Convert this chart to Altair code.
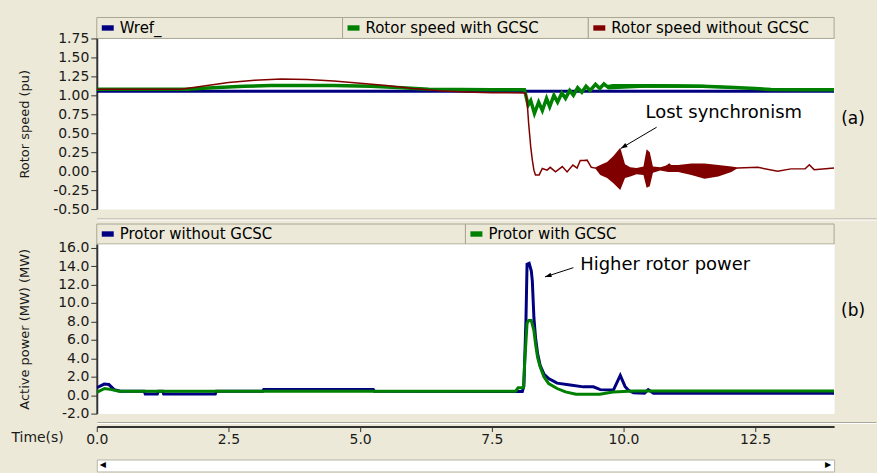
import altair as alt
import pandas as pd

# ---------------- text / categories ----------------
names_a = ["Wref_", "Rotor speed with GCSC", "Rotor speed without GCSC"]
colors_a = ["#000080", "#008000", "#800000"]
names_b = ["Protor without  GCSC", "Protor with  GCSC"]
colors_b = ["#000080", "#008000"]

yticks_a = [-0.5, -0.25, 0.0, 0.25, 0.5, 0.75, 1.0, 1.25, 1.5, 1.75]
yticks_b = [-2, 0, 2, 4, 6, 8, 10, 12, 14, 16]
xticks = [0.0, 2.5, 5.0, 7.5, 10.0, 12.5]

# ---------------- (a) rotor speed (pu) ----------------
wref_t = [0.0, 14.0]
wref_v = [1.055, 1.055]

with_t = [0.0, 1.7, 2.2, 2.8, 3.3, 4.5, 5.2, 5.8, 6.3, 7.5,
          8.12, 8.14, 8.19, 8.24, 8.31, 8.39, 8.46, 8.54, 8.60, 8.68,
          8.75, 8.83, 8.90, 8.98, 9.05, 9.13, 9.21, 9.29, 9.37, 9.47,
          9.55, 9.63, 9.72, 10.5, 11.5, 12.0, 12.5, 12.8, 13.5, 14.0]
with_v = [1.08, 1.08, 1.10, 1.12, 1.13, 1.13, 1.12, 1.10, 1.08, 1.075,
          1.075, 1.02, 0.87, 0.93, 0.76, 0.91, 0.80, 0.96, 0.85, 1.00,
          0.91, 1.03, 0.96, 1.065, 1.00, 1.10, 1.04, 1.12, 1.065, 1.145,
          1.09, 1.15, 1.10, 1.125, 1.12, 1.105, 1.09, 1.078, 1.075, 1.075]
# envelope of the fast ripple of the "with GCSC" speed
with_rip_t = [9.63, 9.80, 10.5, 11.5, 12.0, 12.5, 12.8]
with_rip_lo = [1.12, 1.10, 1.10, 1.10, 1.09, 1.08, 1.075]
with_rip_hi = [1.13, 1.15, 1.15, 1.14, 1.12, 1.10, 1.08]

without_t = [0.0, 1.6, 2.0, 2.5, 3.0, 3.5, 4.0, 4.5, 5.0, 5.5,
             6.0, 6.5, 7.0, 7.5, 8.14, 8.17, 8.20, 8.24, 8.27, 8.30,
             8.33, 8.40, 8.46, 8.55, 8.61, 8.71, 8.84, 8.93, 9.04, 9.12,
             9.18, 9.25, 9.31, 9.39, 9.47, 9.70, 10.0, 10.25, 10.47, 10.6,
             10.75, 10.87, 10.95, 11.5, 12.05, 12.17, 12.55, 12.93, 13.18, 13.45,
             13.53, 13.62, 14.0]
without_v = [1.08, 1.08, 1.12, 1.17, 1.20, 1.215, 1.21, 1.19, 1.16, 1.13,
             1.09, 1.06, 1.045, 1.035, 1.03, 0.93, 0.63, 0.32, 0.145, 0.013,
             -0.05, -0.05, 0.035, 0.013, 0.05, -0.01, 0.06, -0.01, 0.08, 0.04,
             0.14, 0.14, 0.145, 0.05, 0.04, 0.02, 0.03, 0.0, 0.03, 0.035,
             0.03, 0.09, 0.04, 0.0, 0.03, 0.04, 0.05, 0.0, 0.03, 0.03,
             0.085, 0.02, 0.04]
# envelope of the dense oscillation after loss of synchronism
without_osc_t = [9.47, 9.56, 9.69, 9.81, 9.94, 10.03, 10.13, 10.25, 10.38, 10.44,
                 10.50, 10.56, 10.70, 10.85, 11.04, 11.29, 11.54, 11.80, 12.05, 12.15]
without_osc_lo = [0.03, -0.05, -0.09, -0.16, -0.25, -0.09, -0.07, -0.04, -0.05, -0.22,
                  -0.20, -0.02, 0.01, -0.01, -0.01, -0.05, -0.10, -0.07, -0.01, 0.03]
without_osc_hi = [0.05, 0.08, 0.12, 0.20, 0.31, 0.09, 0.05, 0.04, 0.06, 0.29,
                  0.25, 0.06, 0.05, 0.08, 0.08, 0.10, 0.10, 0.08, 0.06, 0.05]

# ---------------- (b) rotor active power (MW) ----------------
pwo_t = [0.0, 0.14, 0.23, 0.33, 0.45, 0.90, 0.92, 1.15, 1.17, 1.25,
         1.27, 2.25, 2.27, 3.15, 3.17, 5.25, 5.27, 8.08, 8.11, 8.15,
         8.17, 8.21, 8.25, 8.27, 8.30, 8.33, 8.37, 8.42, 8.49, 8.58,
         8.74, 8.99, 9.24, 9.43, 9.56, 9.81, 9.94, 10.03, 10.09, 10.19,
         10.40, 10.47, 10.57, 14.0]
pwo_v = [0.8, 1.2, 1.15, 0.6, 0.42, 0.42, 0.12, 0.12, 0.42, 0.42,
         0.12, 0.12, 0.42, 0.42, 0.62, 0.62, 0.42, 0.40, 1.0, 8.4,
         14.2, 14.3, 13.5, 12.4, 8.4, 6.3, 4.5, 3.2, 2.3, 1.8,
         1.3, 1.1, 0.9, 0.9, 0.6, 0.55, 2.15, 0.95, 0.55, 0.25,
         0.2, 0.6, 0.2, 0.2]
pw_t = [0.0, 0.15, 0.28, 0.42, 7.95, 8.0, 8.1, 8.13, 8.17, 8.20,
        8.25, 8.30, 8.33, 8.37, 8.42, 8.49, 8.58, 8.74, 8.90, 9.10,
        9.55, 9.80, 10.2, 14.0]
pw_v = [0.3, 0.72, 0.6, 0.42, 0.42, 0.8, 0.8, 4.0, 7.8, 8.1,
        8.1, 7.0, 5.6, 4.1, 3.06, 2.0, 1.26, 0.72, 0.36, 0.10,
        0.10, 0.35, 0.45, 0.45]

# ---------------- annotations ----------------
ann_a_text = ["Lost synchronism"]
ann_a_t = [10.42]
ann_a_v = [0.763]
arrow_a_t, arrow_a_v, arrow_a_t2, arrow_a_v2 = [10.63], [0.579], [9.95], [0.30]
ann_b_text = ["Higher rotor power"]
ann_b_t = [9.18]
ann_b_v = [14.1]
arrow_b_t, arrow_b_v, arrow_b_t2, arrow_b_v2 = [9.05], [13.83], [8.51], [12.83]
tag_a = ["(a)"]
tag_a_t, tag_a_v = [14.36], [0.684]
tag_b = ["(b)"]
tag_b_t, tag_b_v = [14.36], [9.15]

scroll_glyph = ["\u25C0", "\u25B6"]
scroll_pos = [0.0, 1.0]

# ---------------- styling ----------------
W = 739
BG = "#ECE9D8"
FONT = "DejaVu Sans"
INK = "#1a1a1a"
AXC = "#333333"
SWATCH = "M-1,-0.45L1,-0.45L1,0.45L-1,0.45Z"
HEAD = "M0,0L-0.6,1.7L0.6,1.7Z"
MINUS = "replace(format(datum.value, '{f}'), '\u2212', '-')"


def sdf(t, v, name):
    return pd.DataFrame({"t": t, "v": v, "series": name})


xscale = alt.Scale(domain=[0, 14], nice=False, zero=False)


def y_axis(values, fmt, title, h):
    return alt.Axis(values=values, labelExpr=MINUS.format(f=fmt), title=title,
                    titleFont=FONT, titleFontSize=13, titleFontWeight="normal",
                    titleColor=INK, titleX=-72, titleY=h / 2, titleAngle=270,
                    titleAlign="center", titleBaseline="middle",
                    labelFont=FONT, labelFontSize=14, labelColor=INK,
                    labelPadding=2, tickSize=6, tickColor=AXC, tickWidth=1,
                    domainColor=AXC, domainWidth=2, grid=False)


def panel(series_layers, ysc, yax, xax, color_scale, ann, h):
    X = alt.X("t:Q", scale=xscale, axis=xax)
    Y = alt.Y("v:Q", scale=ysc, axis=yax)
    C = alt.Color("series:N", scale=color_scale, legend=None)
    layers = []
    for kind, df, width in series_layers:
        base = alt.Chart(df)
        if kind == "line":
            layers.append(base.mark_line(strokeWidth=width, clip=True).encode(x=X, y=Y, color=C))
        else:
            layers.append(base.mark_area(opacity=1, clip=True).encode(
                x=X, y=alt.Y("lo:Q", scale=ysc, axis=yax), y2="hi:Q", color=C))
    text_df, arrow_df, angle, tag_df = ann
    layers.append(alt.Chart(arrow_df).mark_rule(color="#000", strokeWidth=1).encode(
        x=X, y=Y, x2="t2:Q", y2="v2:Q"))
    layers.append(alt.Chart(arrow_df).mark_point(shape=HEAD, size=60, filled=True, opacity=1,
                                                 color="#000", angle=angle).encode(
        x=alt.X("t2:Q", scale=xscale, axis=xax), y=alt.Y("v2:Q", scale=ysc, axis=yax)))
    layers.append(alt.Chart(text_df).mark_text(align="left", baseline="middle", font=FONT,
                                               fontSize=18, color="#000", clip=False).encode(
        x=X, y=Y, text="label:N"))
    layers.append(alt.Chart(tag_df).mark_text(align="center", baseline="middle", font=FONT,
                                              fontSize=17, color="#000", clip=False).encode(
        x=X, y=Y, text="label:N"))
    return alt.layer(*layers).properties(
        width=W, height=h, view=alt.ViewBackground(fill="white", stroke="transparent"))


def legend_strip(names, colors, h):
    df = pd.DataFrame({"name": names})
    sc = alt.Scale(type="band", domain=names, paddingInner=0, paddingOuter=0)
    xb = alt.X("name:N", sort=names, scale=sc, axis=None)
    x0 = alt.X("name:N", sort=names, scale=sc, axis=None, bandPosition=0)
    col = alt.Color("name:N", scale=alt.Scale(domain=names, range=colors), legend=None)
    base = alt.Chart(df)
    tabs = base.mark_rect(fill=BG, stroke="#A9A694", strokeWidth=1).encode(x=xb)
    sw = base.mark_point(shape=SWATCH, size=144, filled=True, opacity=1, xOffset=11).encode(x=x0, color=col)
    tx = base.mark_text(align="left", baseline="middle", dx=23, font=FONT, fontSize=15,
                        color="#000").encode(x=x0, text="name:N")
    return alt.layer(tabs, sw, tx).properties(
        width=W, height=h, view=alt.ViewBackground(fill=BG, stroke="transparent"))


def block(h, fill="transparent", w=W):
    return alt.Chart(pd.DataFrame({"k": [0]})).mark_point(opacity=0).encode(
        x=alt.value(0), y=alt.value(0)).properties(
        width=w, height=h, view=alt.ViewBackground(fill=fill, stroke="transparent"))


# ---------------- panel (a) ----------------
HA = 171
ysc_a = alt.Scale(domain=[-0.5, 1.75], nice=False, zero=False)
cs_a = alt.Scale(domain=names_a, range=colors_a)
with_rip = pd.DataFrame({"t": with_rip_t, "lo": with_rip_lo, "hi": with_rip_hi, "series": names_a[1]})
without_osc = pd.DataFrame({"t": without_osc_t, "lo": without_osc_lo, "hi": without_osc_hi, "series": names_a[2]})
ann_a = (
    pd.DataFrame({"t": ann_a_t, "v": ann_a_v, "label": ann_a_text}),
    pd.DataFrame({"t": arrow_a_t, "v": arrow_a_v, "t2": arrow_a_t2, "v2": arrow_a_v2}),
    239,
    pd.DataFrame({"t": tag_a_t, "v": tag_a_v, "label": tag_a}),
)
panel_a = panel(
    [("line", sdf(wref_t, wref_v, names_a[0]), 3),
     ("line", sdf(with_t, with_v, names_a[1]), 3.5),
     ("area", with_rip, 0),
     ("line", sdf(without_t, without_v, names_a[2]), 1.5),
     ("area", without_osc, 0)],
    ysc_a, y_axis(yticks_a, ".2f", "Rotor speed (pu)", HA), None, cs_a, ann_a, HA)

# ---------------- panel (b) ----------------
HB = 170
ysc_b = alt.Scale(domain=[-2, 16.4], nice=False, zero=False)
cs_b = alt.Scale(domain=names_b, range=colors_b)
xaxis_b = alt.Axis(values=xticks, labelExpr=MINUS.format(f=".1f"), title="Time(s)",
                   titleFont=FONT, titleFontSize=14, titleFontWeight="normal", titleColor=INK,
                   titleX=-86, titleY=11, titleAlign="left", titleBaseline="middle", titleAngle=0,
                   labelFont=FONT, labelFontSize=14, labelColor=INK, labelFlush=False,
                   labelPadding=1, offset=13, tickSize=5, tickColor=AXC, domainColor=AXC,
                   domainWidth=2, grid=False)
ann_b = (
    pd.DataFrame({"t": ann_b_t, "v": ann_b_v, "label": ann_b_text}),
    pd.DataFrame({"t": arrow_b_t, "v": arrow_b_v, "t2": arrow_b_t2, "v2": arrow_b_v2}),
    252,
    pd.DataFrame({"t": tag_b_t, "v": tag_b_v, "label": tag_b}),
)
panel_b = panel(
    [("line", sdf(pwo_t, pwo_v, names_b[0]), 3),
     ("line", sdf(pw_t, pw_v, names_b[1]), 3)],
    ysc_b, y_axis(yticks_b, ".1f", "Active power (MW) (MW)", HB), xaxis_b, cs_b, ann_b, HB)

# ---------------- scroll bar ----------------
sdf_scroll = pd.DataFrame({"p": scroll_pos, "g": scroll_glyph})
sx = alt.X("p:Q", scale=alt.Scale(domain=[0, 1], nice=False), axis=None)
scroll = alt.layer(
    alt.Chart(sdf_scroll).transform_filter("datum.p == 0").mark_text(
        align="left", dx=3, font=FONT, fontSize=8, color="#000").encode(x=sx, text="g:N"),
    alt.Chart(sdf_scroll).transform_filter("datum.p == 1").mark_text(
        align="right", dx=-3, font=FONT, fontSize=8, color="#000").encode(x=sx, text="g:N"),
).properties(width=W, height=12, view=alt.ViewBackground(fill="white", stroke="#B8B5A6"))

chart = alt.vconcat(
    legend_strip(names_a, colors_a, 21),
    panel_a,
    block(9),
    block(1, "#ACA899", 781),
    block(1, "white", 781),
    block(4),
    legend_strip(names_b, colors_b, 20),
    panel_b,
    block(8),
    block(1, "#ACA899", 781),
    block(1, "white", 781),
    block(36),
    scroll,
    spacing=0,
    bounds="flush",
).properties(
    background=BG,
    padding={"left": 10, "top": 16, "right": 0, "bottom": 0},
).configure_view(stroke="transparent")

chart.save("out.html", embed_options={"renderer": "svg", "actions": False})
